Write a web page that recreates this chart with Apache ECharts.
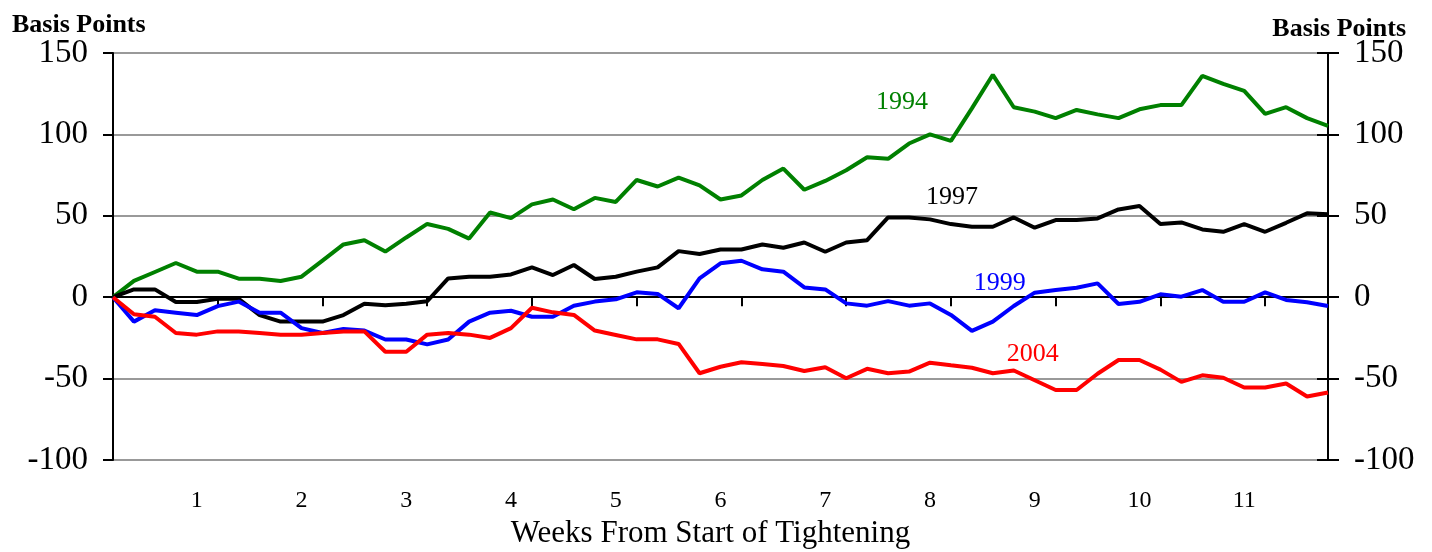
<!DOCTYPE html>
<html lang="en">
<head>
    <meta charset="UTF-8">
    <script src="https://cdn.jsdelivr.net/npm/echarts@6/dist/echarts.min.js"></script>
    <style>
        html, body { margin: 0; padding: 0; background: #fff; }
        #main { width: 1432px; height: 552px; }
    </style>
</head>
<body>
    <div id="main"></div>
</body>
<script>
    // trading days since start of tightening (5 per week)
    var days = Array.from({length: 59}, function (_, i) { return String(i); });
    var weekLabels = ['1', '2', '3', '4', '5', '6', '7', '8', '9', '10', '11'];

    var y1994 = [0, 10, 15.5, 21, 15.7, 15.7, 11.4, 11.4, 10, 12.6,
        22.5, 32.4, 35, 28, 36.7, 45, 42, 36, 52, 48.6,
        57, 60, 54, 61, 58.5, 72, 68, 73.5, 68.7, 60,
        62.5, 72, 79, 66, 71.4, 78, 86, 85, 94.4, 100,
        96, 116, 136.6, 116.7, 114, 110, 115, 112.3, 110, 115.4,
        118, 118, 136, 131, 126.7, 112.6, 116.7, 110, 105.3];
    var y1997 = [0, 4.8, 4.8, -3, -3, -1, -1, -11, -15, -15,
        -15, -11, -4, -5, -4, -2.5, 11.5, 12.5, 12.5, 14,
        18.3, 13.6, 19.8, 11.2, 12.6, 15.7, 18.3, 28.3, 26.5, 29.3,
        29.3, 32.4, 30.4, 33.6, 27.9, 33.6, 35, 49, 49, 47.8,
        44.9, 43.3, 43.3, 49, 42.7, 47.4, 47.4, 48.4, 53.9, 56,
        44.9, 45.9, 41.6, 40.2, 44.9, 40.2, 45.7, 51.5, 51];
    var y1999 = [0, -15, -8, -9.5, -11, -5.5, -2.7, -9.5, -9.5, -19,
        -22, -19.5, -20.5, -26, -26, -29, -26, -15, -9.5, -8.3,
        -12, -12, -5.2, -2.7, -1.3, 3, 2, -6.8, 11.6, 20.8,
        22.4, 17.1, 15.7, 6, 4.8, -3.8, -5.2, -2.4, -5.2, -3.8,
        -10.9, -20.7, -15, -5.4, 2.8, 4.4, 5.8, 8.5, -4.2, -2.8,
        1.8, 0.3, 4.4, -2.8, -2.8, 3, -1.7, -3.1, -5.4];
    var y2004 = [0, -10.5, -12, -22, -23, -21, -21, -22, -23, -23,
        -22, -21, -21, -33.5, -33.5, -23, -22, -23, -25, -19,
        -6.5, -9.3, -10.9, -20.5, -23.2, -25.9, -25.9, -28.7, -46.7, -42.7,
        -40, -41, -42.3, -45.3, -43, -49.8, -44, -46.7, -45.7, -40.2,
        -41.8, -43.3, -46.7, -45, -51, -57, -57, -47, -38.6, -38.6,
        -44.5, -52, -48, -49.5, -55.5, -55.5, -53, -61, -58.5];

    var serif = 'Liberation Serif';

    function makeLine(name, data, color, labelAt) {
        return {
            name: name,
            type: 'line',
            data: data,
            symbol: 'none',
            animation: false,
            lineStyle: {color: color, width: 4},
            markPoint: {
                symbol: 'circle',
                symbolSize: 0,
                label: {
                    show: true,
                    formatter: name,
                    color: color,
                    fontFamily: serif,
                    fontSize: 26,
                    offset: labelAt.offset
                },
                data: [{coord: [labelAt.index, labelAt.value]}]
            }
        };
    }

    var myChart = echarts.init(document.getElementById('main'));
    var option = {
        backgroundColor: '#fff',
        animation: false,
        title: [
            {text: 'Basis Points', left: 7, top: 7,
                textStyle: {fontFamily: serif, fontWeight: 'bold', fontSize: 26, color: '#000'}},
            {text: 'Basis Points', right: 21, top: 11,
                textStyle: {fontFamily: serif, fontWeight: 'bold', fontSize: 26, color: '#000'}}
        ],
        grid: {left: 113, right: 104, top: 53, bottom: 92, containLabel: false, outerBoundsMode: 'none'},
        xAxis: [
            {
                type: 'category',
                data: days,
                boundaryGap: false,
                axisLine: {onZero: true, lineStyle: {color: '#000', width: 2}},
                axisTick: {
                    interval: function (index) { return index > 0 && index % 5 === 0; },
                    length: 9,
                    lineStyle: {color: '#000', width: 2}
                },
                axisLabel: {show: false},
                splitLine: {show: false}
            },
            {
                type: 'category',
                data: days,
                boundaryGap: false,
                position: 'bottom',
                axisLine: {show: false, onZero: false},
                axisTick: {show: false},
                axisLabel: {
                    interval: function (index) { return index % 5 === 4; },
                    formatter: function (value, index) { return weekLabels[(index - 4) / 5]; },
                    margin: 29,
                    fontFamily: serif,
                    fontSize: 24,
                    color: '#000'
                },
                name: 'Weeks From Start of Tightening',
                nameLocation: 'middle',
                nameGap: 57,
                nameTextStyle: {fontFamily: serif, fontSize: 31, color: '#000', padding: [0, 20, 0, 0]}
            }
        ],
        yAxis: [
            {
                type: 'value',
                min: -100, max: 150, interval: 50,
                position: 'left',
                axisLine: {show: true, lineStyle: {color: '#000', width: 2}},
                axisTick: {show: true, length: 10, lineStyle: {color: '#000', width: 2}},
                axisLabel: {margin: 25, fontFamily: serif, fontSize: 33, color: '#000'},
                splitLine: {lineStyle: {color: '#999', width: 2}}
            },
            {
                type: 'value',
                min: -100, max: 150, interval: 50,
                position: 'right',
                axisLine: {show: true, lineStyle: {color: '#000', width: 2}},
                axisTick: {show: true, length: 11, lineStyle: {color: '#000', width: 2}},
                axisLabel: {margin: 26, fontFamily: serif, fontSize: 33, color: '#000'},
                splitLine: {show: false}
            },
            {
                type: 'value',
                min: -100, max: 150, interval: 50,
                position: 'right',
                axisLine: {show: false},
                axisTick: {show: true, inside: true, length: 11, lineStyle: {color: '#000', width: 2}},
                axisLabel: {show: false},
                splitLine: {show: false}
            }
        ],
        series: [
            makeLine('1994', y1994, '#008000', {index: 38, value: 120, offset: [-7, 0]}),
            makeLine('1997', y1997, '#000000', {index: 40, value: 61.5, offset: [1, 0]}),
            makeLine('1999', y1999, '#0000ff', {index: 42, value: 8.7, offset: [7, 0]}),
            makeLine('2004', y2004, '#ff0000', {index: 44, value: -35, offset: [-2, 0]})
        ]
    };
    myChart.setOption(option);
    window.onresize = function () {
        myChart.resize();
    };
</script>
</html>
